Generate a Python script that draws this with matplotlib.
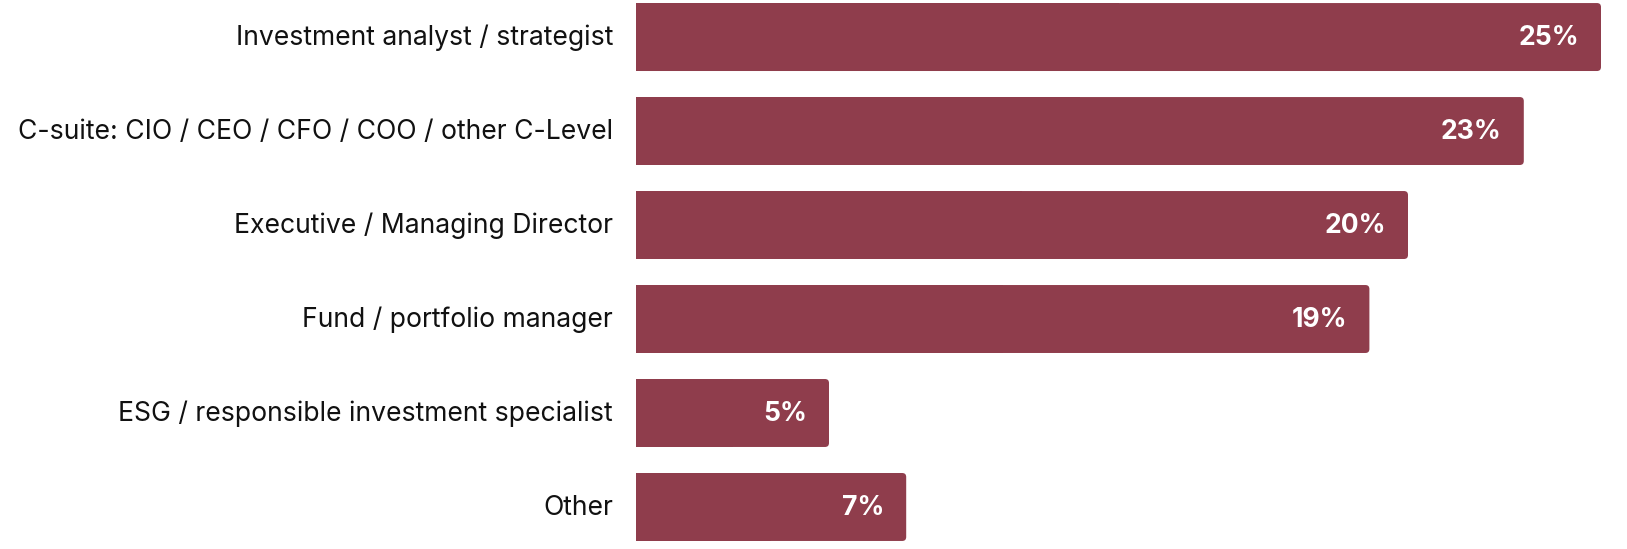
import matplotlib
matplotlib.use("Agg")
import matplotlib.pyplot as plt
from matplotlib.patches import FancyBboxPatch, Rectangle
import matplotlib.transforms as mtransforms

categories = [
    "Investment analyst / strategist",
    "C-suite: CIO / CEO / CFO / COO / other C-Level",
    "Executive / Managing Director",
    "Fund / portfolio manager",
    "ESG / responsible investment specialist",
    "Other",
]
values = [25, 23, 20, 19, 5, 7]
value_labels = ["25%", "23%", "20%", "19%", "5%", "7%"]

COLOR = "#8F3D4C"
W, H, DPI = 1627, 549, 100
plt.rcParams['font.family'] = ['Inter', 'DejaVu Sans']

fig = plt.figure(figsize=(W / DPI, H / DPI), dpi=DPI)
left_px, right_px = 636, 1601
ax = fig.add_axes([left_px / W, 0, (right_px - left_px) / W, 1])
ax.set_xlim(0, 25)
ax.set_ylim(5.447, -0.394)

px_per_x = (right_px - left_px) / 25
px_per_y = 94
bar_h = 0.723
r_px = 4
r = r_px / px_per_x
aspect = px_per_x / px_per_y

for i, v in enumerate(values):
    p = FancyBboxPatch((0, i - bar_h / 2), v, bar_h,
                       boxstyle=f"round,pad=0,rounding_size={r}",
                       mutation_aspect=aspect,
                       facecolor=COLOR, edgecolor="none")
    ax.add_patch(p)
    ax.add_patch(Rectangle((0, i - bar_h / 2), v / 2, bar_h,
                           facecolor=COLOR, edgecolor="none"))
    ax.annotate(value_labels[i], xy=(v, i), xytext=(-22 * 0.72, -0.6),
                textcoords="offset points", ha="right", va="center",
                color="white", fontsize=19.1, fontweight="bold")

ax.set_yticks(range(len(categories)))
ax.set_yticklabels(categories, fontsize=19.1, color="#111111")
ax.tick_params(axis="y", length=0, pad=23 * 0.72)
ax.tick_params(axis="x", bottom=False, labelbottom=False)
shift = mtransforms.ScaledTranslation(0, 1.5 / 72, fig.dpi_scale_trans)
for lab in ax.get_yticklabels():
    lab.set_transform(lab.get_transform() + shift)
for s in ax.spines.values():
    s.set_visible(False)

fig.savefig("out.png", dpi=DPI, facecolor="white")
